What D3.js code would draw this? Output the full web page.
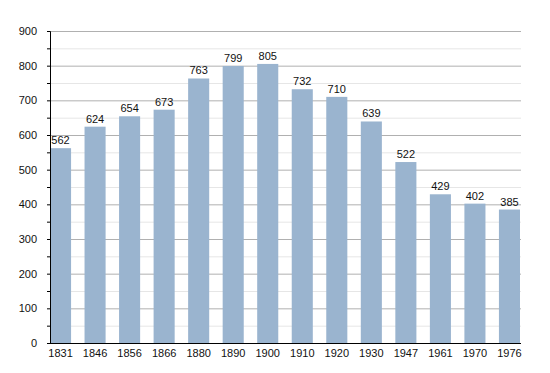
<!DOCTYPE html>
<html>
<head>
<meta charset="utf-8">
<script src="https://cdn.jsdelivr.net/npm/d3@7"></script>
<style>
  body { margin: 0; background: #fff; }
  text { font-family: "Liberation Sans", Arial, sans-serif; }
</style>
</head>
<body>
<div class="chart"></div>
<script>
var years = ["1831", "1846", "1856", "1866", "1880", "1890", "1900", "1910", "1920", "1930", "1947", "1961", "1970", "1976"];
var population = [562, 624, 654, 673, 763, 799, 805, 732, 710, 639, 522, 429, 402, 385];
var yTicks = [0, 100, 200, 300, 400, 500, 600, 700, 800, 900];
var yMinor = [50, 150, 250, 350, 450, 550, 650, 750, 850];

var margin = { top: 31, right: 29, bottom: 30, left: 50 };
var width = 550 - margin.left - margin.right;
var height = 373 - margin.top - margin.bottom;

var svg = d3
  .select(".chart")
  .append("svg")
  .attr("width", 550)
  .attr("height", 373);

var g = svg.append("g").attr("transform", `translate(${margin.left},${margin.top})`);

var xScale = d3.scaleBand().domain(years).range([0, width - 1]).paddingInner(0.39).paddingOuter(0);
var yScale = d3.scaleLinear().domain([0, 900]).range([height, 0]);

// minor gridlines
g.selectAll(".minor")
  .data(yMinor)
  .enter()
  .append("line")
  .attr("x1", 0)
  .attr("x2", width)
  .attr("y1", d => yScale(d) + 0.5)
  .attr("y2", d => yScale(d) + 0.5)
  .attr("stroke", "#e6e6e6");

// major gridlines
g.selectAll(".major")
  .data(yTicks.slice(1))
  .enter()
  .append("line")
  .attr("x1", 0)
  .attr("x2", width)
  .attr("y1", d => yScale(d) + 0.5)
  .attr("y2", d => yScale(d) + 0.5)
  .attr("stroke", "#b0b0b0");

g.selectAll(".bar")
  .data(population)
  .enter()
  .append("rect")
  .attr("x", (d, i) => xScale(years[i]))
  .attr("width", xScale.bandwidth())
  .attr("y", d => yScale(d))
  .attr("height", d => height - yScale(d))
  .attr("fill", "#9ab4cf");

g.selectAll(".val")
  .data(population)
  .enter()
  .append("text")
  .attr("x", (d, i) => xScale(years[i]) + xScale.bandwidth() / 2)
  .attr("y", d => yScale(d) - 4)
  .attr("text-anchor", "middle")
  .attr("font-size", 11)
  .attr("fill", "#111")
  .text(d => d);

// y axis
var yAxis = d3.axisLeft(yScale).tickValues(yTicks).tickSize(3).tickPadding(10);
var ya = g.append("g").call(yAxis);
ya.select(".domain").attr("stroke", "#000");
ya.selectAll("text").attr("font-size", 11).attr("fill", "#111").attr("font-family", "Liberation Sans, Arial, sans-serif");
g.selectAll(".mtick")
  .data(yMinor)
  .enter()
  .append("line")
  .attr("x1", -3)
  .attr("x2", 0)
  .attr("y1", d => yScale(d) + 0.5)
  .attr("y2", d => yScale(d) + 0.5)
  .attr("stroke", "#000");

// x axis
var xAxis = d3.axisBottom(xScale).tickSize(0).tickPadding(6);
var xa = g.append("g").attr("transform", `translate(0,${height})`).call(xAxis);
xa.select(".domain").attr("stroke", "#000").attr("d", `M0,0.5H${width}`);
xa.selectAll("text").attr("font-size", 11).attr("fill", "#111").attr("font-family", "Liberation Sans, Arial, sans-serif");
</script>
</body>
</html>
